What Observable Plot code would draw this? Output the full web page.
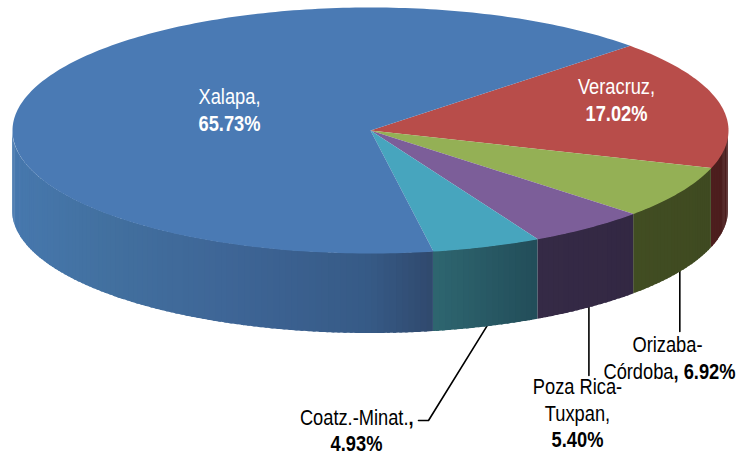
<!DOCTYPE html>
<html>
<head>
<meta charset="utf-8">
<script src="https://cdn.jsdelivr.net/npm/d3@7"></script>
<script src="https://cdn.jsdelivr.net/npm/@observablehq/plot@0.6"></script>
<style>html,body{margin:0;padding:0;background:#fff}svg{display:block}</style>
</head>
<body>
<div id="chart"></div>
<script>
// Data, clockwise from the Veracruz slice
const categories = ["Veracruz", "Orizaba-Córdoba", "Poza Rica-Tuxpan", "Coatz.-Minat.", "Xalapa"];
const shares = [17.02, 6.92, 5.40, 4.93, 65.73];

// Styles
const topColors = ["#b84d4a", "#94b055", "#7c5e99", "#47a5be", "#4a7ab4"];
// Wall shades, listed from the left end of each wall to its right end
const wallShades = [
  ["#4e1e1e", "#4a1d1d"],
  ["#414d22", "#3f4a21"],
  ["#352a46", "#332843"],
  ["#2e6670", "#224d59"],
  ["#4778ae", "#42709f", "#3e6596", "#365a86", "#30496d"]
];
const wallShadeAt = [null, null, null, null, [0, 0.23, 0.52, 0.85, 1]];

// Layout
const W = 739, H = 455;
const pieShape = {cx: 370, cy: 130, rx: 358, ry: 123, depth: 80, startDeg: -43.5};
const font = "'Liberation Sans','Arial',sans-serif", fontSize = 21.5, narrow = 0.85;

const rad = Math.PI / 180;
const arcs = d3.pie().sort(null).startAngle(pieShape.startDeg * rad).endAngle((pieShape.startDeg + 360) * rad)(shares);
const ex = a => pieShape.cx + pieShape.rx * Math.cos(a);
const ey = a => pieShape.cy + pieShape.ry * Math.sin(a);

// Top faces
const topFace = arcs.flatMap((s, i) => {
  const n = Math.max(2, Math.ceil((s.endAngle - s.startAngle) / rad));
  const pts = [{x: pieShape.cx, y: pieShape.cy}];
  for (let k = 0; k <= n; k++) {
    const a = s.startAngle + (s.endAngle - s.startAngle) * k / n;
    pts.push({x: ex(a), y: ey(a)});
  }
  pts.push({x: pieShape.cx, y: pieShape.cy});
  return pts.map(p => ({...p, id: categories[i], color: topColors[i]}));
});

// Walls: only the front half of the rim shows, split in thin strips for shading
const wall = [];
arcs.forEach((s, i) => {
  const a0 = Math.max(s.startAngle, 0), a1 = Math.min(s.endAngle, Math.PI);
  const left = ex(a1), right = ex(a0);
  const at = wallShadeAt[i] || wallShades[i].map((_, j, l) => j / (l.length - 1));
  const shade = d3.scaleLinear().domain(at.map(t => left + (right - left) * t)).range(wallShades[i]).interpolate(d3.interpolateRgb).clamp(true);
  const n = Math.max(2, Math.ceil((a1 - a0) / rad));
  for (let k = 0; k < n; k++) {
    // Each strip runs a little under its neighbour, which is drawn after it
    const b0 = a0 + (a1 - a0) * k / n;
    const b1 = Math.min(a1, a0 + (a1 - a0) * (k + 1.5) / n);
    const id = categories[i] + k;
    const color = shade(ex(a0 + (a1 - a0) * (k + 0.5) / n));
    for (let j = 0; j <= 3; j++) {
      const a = b0 + (b1 - b0) * j / 3;
      wall.push({x: ex(a), y1: ey(a), y2: ey(a) + pieShape.depth, id, color});
    }
  }
});

// Leader lines start at the mid angle of their slice, on the lower rim
const leaderEnds = [
  {name: "Orizaba-Córdoba", y: 331},
  {name: "Poza Rica-Tuxpan", y: 375},
  {name: "Coatz.-Minat.", x: 428, y: 420, tailX: 418}
];
const leaders = leaderEnds.flatMap(d => {
  const s = arcs[categories.indexOf(d.name)];
  const m = (s.startAngle + s.endAngle) / 2;
  const pts = [{x: ex(m), y: ey(m) + pieShape.depth - 1}, {x: d.x ?? ex(m), y: d.y}];
  if (d.tailX) pts.push({x: d.tailX, y: d.y});
  return pts.map(p => ({...p, id: d.name}));
});

// Label text
const regularLabels = [
  {x: 229, y: 97, text: "Xalapa,", color: "#fff"},
  {x: 616, y: 87, text: "Veracruz,", color: "#fff"},
  {x: 667, y: 345, text: "Orizaba-", color: "#000"},
  {x: 577, y: 387, text: "Poza Rica-", color: "#000"},
  {x: 577, y: 414, text: "Tuxpan,", color: "#000"}
];
const boldLabels = [
  {x: 229, y: 124, text: "65.73%", color: "#fff"},
  {x: 616, y: 114, text: "17.02%", color: "#fff"},
  {x: 577, y: 440, text: "5.40%", color: "#000"},
  {x: 356, y: 444, text: "4.93%", color: "#000"}
];
const endRegular = [
  {x: 673, y: 372, text: "Córdoba"},
  {x: 408, y: 418, text: "Coatz.-Minat."}
];
const startBold = [
  {x: 673, y: 372, text: ", 6.92%"},
  {x: 408, y: 418, text: ","}
];

const textOpts = {x: "x", y: "y", text: "text", fontSize, fontFamily: font, lineAnchor: "middle"};

const chart = Plot.plot({
  width: W, height: H,
  margin: 0,
  x: {domain: [0, W], range: [0, W], axis: null},
  y: {domain: [0, H], range: [0, H], axis: null},
  color: {type: "identity"},
  marks: [
    Plot.line(leaders, {x: "x", y: "y", z: "id", stroke: "#000", strokeWidth: 1.6, curve: "linear"}),
    Plot.areaY(wall, {x: "x", y1: "y1", y2: "y2", z: "id", fill: "color", curve: "linear"}),
    Plot.line(topFace, {x: "x", y: "y", z: "id", fill: "color", stroke: "none", curve: "linear"}),
    Plot.text(regularLabels, {...textOpts, fill: "color"}),
    Plot.text(boldLabels, {...textOpts, fill: "color", fontWeight: "bold"}),
    Plot.text(endRegular, {...textOpts, fill: "#000", textAnchor: "end"}),
    Plot.text(startBold, {...textOpts, fill: "#000", textAnchor: "start", fontWeight: "bold"})
  ]
});
// The labels use a condensed face: squeeze them horizontally around their anchors
d3.select(chart).selectAll("text").attr("transform", function () {
  return (this.getAttribute("transform") || "") + ` scale(${narrow},1)`;
});
document.getElementById("chart").append(chart);
</script>
</body>
</html>
